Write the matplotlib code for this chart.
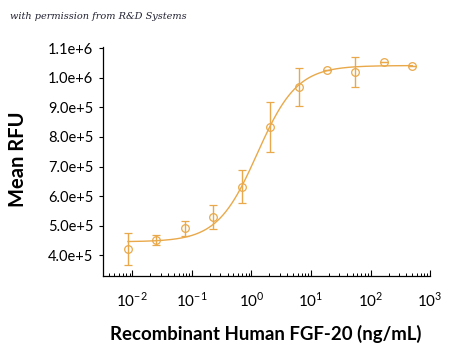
import numpy as np
import matplotlib.pyplot as plt
from matplotlib.ticker import LogLocator, NullFormatter, FixedLocator

# data
conc = [0.00847, 0.0254, 0.0762, 0.229, 0.686, 2.06, 6.17, 18.5, 55.6, 166.7, 500.0]
rfu = [4.20e5, 4.51e5, 4.91e5, 5.28e5, 6.32e5, 8.33e5, 9.69e5, 1.027e6, 1.021e6, 1.053e6, 1.040e6]
err = [5.4e4, 1.7e4, 2.6e4, 4.1e4, 5.7e4, 8.4e4, 6.5e4, 0.0, 5.1e4, 0.0, 0.0]

# 4PL fit parameters (bottom, top, EC50, hill)
fit_bottom = 4.45e5
fit_top = 1.042e6
fit_ec50 = 1.25
fit_hill = 1.3

yticks = [4.0e5, 5.0e5, 6.0e5, 7.0e5, 8.0e5, 9.0e5, 1.0e6, 1.1e6]
ytick_labels = ['4.0e+5', '5.0e+5', '6.0e+5', '7.0e+5', '8.0e+5', '9.0e+5', '1.0e+6', '1.1e+6']
xticks = [1e-2, 1e-1, 1e0, 1e1, 1e2, 1e3]
xtick_labels = ['$10^{-2}$', '$10^{-1}$', '$10^{0}$', '$10^{1}$', '$10^{2}$', '$10^{3}$']

col = '#E9A94A'
plt.rcParams['font.family'] = ['Lato', 'DejaVu Sans']
plt.rcParams['mathtext.fontset'] = 'custom'
plt.rcParams['mathtext.rm'] = 'Lato'

fig = plt.figure(figsize=(4.5, 3.53), dpi=100)
ax = fig.add_axes([0.229, 0.218, 0.727, 0.649])

xs = np.logspace(np.log10(conc[0]), np.log10(conc[-1]), 300)
ys = fit_bottom + (fit_top - fit_bottom) / (1 + (fit_ec50 / xs) ** fit_hill)
ax.plot(xs, ys, color=col, lw=1.0)
ax.errorbar(conc, rfu, yerr=err, fmt='o', mfc='none', mec=col, ecolor=col,
            ms=5.5, mew=0.9, elinewidth=1.0, capsize=3, capthick=1.0)

ax.set_xscale('log')
ax.set_xlim(10 ** -2.49, 1e3)
ax.set_ylim(3.29e5, 1.105e6)

ax.set_yticks(yticks)
ax.set_yticklabels(ytick_labels, fontsize=10.5)
ax.xaxis.set_major_locator(FixedLocator(xticks))
ax.set_xticklabels(xtick_labels, fontsize=11)
ax.xaxis.set_minor_locator(LogLocator(base=10, subs=np.arange(2, 10), numticks=20))
ax.xaxis.set_minor_formatter(NullFormatter())
ax.tick_params(axis='x', which='major', direction='in', length=4, width=0.8, pad=11)
ax.tick_params(axis='x', which='minor', direction='in', length=2.5, width=0.7)
ax.tick_params(axis='y', direction='out', length=3, width=0.8, pad=4)

for s in ['top', 'right']:
    ax.spines[s].set_visible(False)
ax.spines['left'].set_linewidth(0.9)
ax.spines['bottom'].set_linewidth(0.9)

ax.set_ylabel('Mean RFU', fontsize=14.5, fontweight='bold')
ax.yaxis.set_label_coords(-0.228, 0.51)
ax.set_xlabel('Recombinant Human FGF-20 (ng/mL)', fontsize=13.4, fontweight='bold')
ax.xaxis.set_label_coords(0.498, -0.215)

fig.text(0.022, 0.952, 'with permission from R&D Systems', family='DejaVu Serif',
         style='italic', fontsize=7, color='#222233', va='center')

plt.savefig('out.png', dpi=100, facecolor='white')
